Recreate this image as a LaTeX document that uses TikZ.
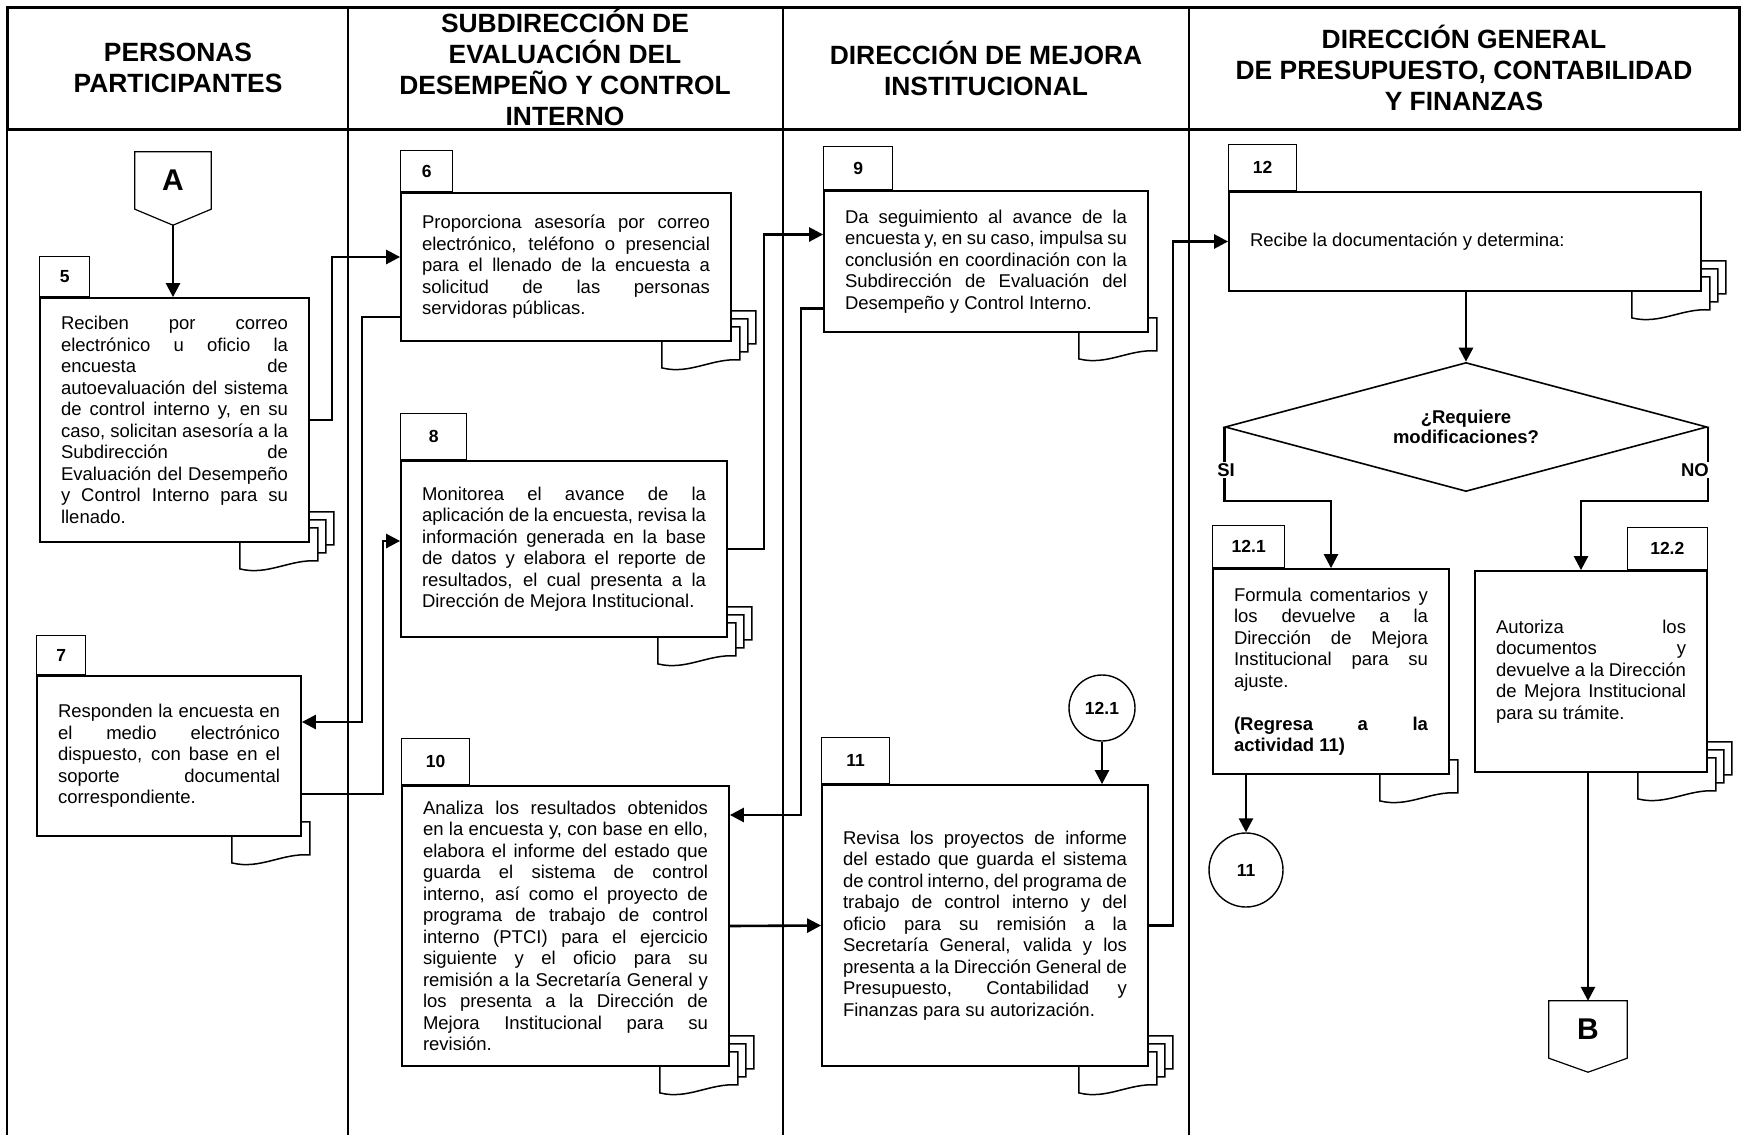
\documentclass[tikz,border=0pt]{standalone}
\usepackage{fontspec}
\setmainfont{Liberation Sans}
\usetikzlibrary{arrows.meta,shapes.geometric,backgrounds}
\tolerance=10000
\hbadness=10000

% stacked sheets behind a box: #1 box, #2 number of sheets
\newcommand{\sheets}[2]{%
  \foreach \k in {#2,...,1}{%
    \pgfmathsetmacro{\dd}{8*(\k-1)}%
    \draw[sheet line, shift={(#1.south east)}]
      ({-70+\dd},{-15-\dd}) -- ({8+\dd},{-15-\dd}) -- ({8+\dd},{18-\dd})
      .. controls ({-20+\dd},{16-\dd}) and ({-42+\dd},{33-\dd}) .. ({-70+\dd},{26-\dd}) -- cycle;
  }%
}

\begin{document}
\begin{tikzpicture}[x=1pt, y=-1pt,
    box node/.style={draw, fill=white, line width=1.8pt, inner xsep=21pt, inner ysep=3pt,
                     align=justify, font=\fontsize{18.5}{21.5}\selectfont},
    tab node/.style={draw, line width=1.2pt, inner sep=0pt,
                     font=\bfseries\fontsize{17.5}{20}\selectfont},
    link node/.style={circle, draw, line width=1.4pt, inner sep=0pt,
                      font=\bfseries\fontsize{17.5}{20}\selectfont},
    page node/.style={inner sep=0pt, font=\bfseries\fontsize{30}{34}\selectfont},
    head node/.style={align=center, font=\bfseries\fontsize{26.4}{31}\selectfont},
    label node/.style={fill=white, inner sep=1pt, font=\bfseries\fontsize{18.5}{21}\selectfont},
    decision node/.style={diamond, draw, line width=1.6pt, aspect=3.7, inner sep=0pt,
                          minimum width=482pt, minimum height=129pt, align=center,
                          font=\bfseries\fontsize{18.5}{20.5}\selectfont},
    arrow line/.style={line width=2.6pt, -{Triangle[length=14pt,width=14pt]}},
    sheet line/.style={draw, fill=white, line width=1.5pt},
    thin line/.style={line width=1.2pt}]

  \useasboundingbox (0,0) rectangle (1741,1135);

  % lanes
  \draw[line width=3pt] (7,7) rectangle (1739,129);
  \draw[line width=2.4pt] (7,129) -- (7,1135);
  \foreach \x in {348,783,1189}
    \draw[line width=2.6pt] (\x,7) -- (\x,1135);

  \node[head node] (h1) at (178,68) {PERSONAS\\PARTICIPANTES};
  \node[head node] (h2) at (565,67) {SUBDIRECCIÓN DE\\EVALUACIÓN DEL\\DESEMPEÑO Y CONTROL\\INTERNO};
  \node[head node] (h3) at (986,68) {DIRECCIÓN DE MEJORA\\INSTITUCIONAL};
  \node[head node] (h4) at (1464,68) {DIRECCIÓN GENERAL\\DE PRESUPUESTO, CONTABILIDAD\\Y FINANZAS};

  % activities
  \node[box node, text width=227pt, minimum height=244pt] (5) at (174.5,420)
    {Reciben por correo\linebreak electrónico u oficio la\linebreak encuesta de\linebreak
     autoevaluación del sistema\linebreak de control interno y, en su\linebreak
     caso, solicitan asesoría a la\linebreak Subdirección de\linebreak
     Evaluación del Desempeño\linebreak y Control Interno para su\linebreak llenado.};
  \node[box node, text width=222pt, minimum height=160pt] (7) at (169,756)
    {Responden la encuesta en\linebreak el medio electrónico\linebreak
     dispuesto, con base en el\linebreak soporte documental\linebreak correspondiente.};
  \node[box node, text width=288pt, minimum height=148pt] (6) at (566,267)
    {Proporciona asesoría por correo\linebreak electrónico, teléfono o presencial\linebreak
     para el llenado de la encuesta a\linebreak solicitud de las personas\linebreak
     servidoras públicas.};
  \node[box node, text width=284pt, minimum height=176pt] (8) at (564,549)
    {Monitorea el avance de la\linebreak aplicación de la encuesta, revisa la\linebreak
     información generada en la base\linebreak de datos y elabora el reporte de\linebreak
     resultados, el cual presenta a la\linebreak Dirección de Mejora Institucional.};
  \node[box node, text width=285pt, minimum height=280pt] (10) at (565.5,926)
    {Analiza los resultados obtenidos\linebreak en la encuesta y, con base en ello,\linebreak
     elabora el informe del estado que\linebreak guarda el sistema de control\linebreak
     interno, así como el proyecto de\linebreak programa de trabajo de control\linebreak
     interno (PTCI) para el ejercicio\linebreak siguiente y el oficio para su\linebreak
     remisión a la Secretaría General y\linebreak los presenta a la Dirección de\linebreak
     Mejora Institucional para su\linebreak revisión.};
  \node[box node, text width=282pt, minimum height=141pt] (9) at (986,261.5)
    {Da seguimiento al avance de la\linebreak encuesta y, en su caso, impulsa su\linebreak
     conclusión en coordinación con la\linebreak Subdirección de Evaluación del\linebreak
     Desempeño y Control Interno.};
  \node[box node, text width=284pt, minimum height=281pt] (11) at (985,925.5)
    {Revisa los proyectos de informe\linebreak del estado que guarda el sistema\linebreak
     de control interno, del programa de\linebreak trabajo de control interno y del\linebreak
     oficio para su remisión a la\linebreak Secretaría General, valida y los\linebreak
     presenta a la Dirección General de\linebreak Presupuesto, Contabilidad y\linebreak
     Finanzas para su autorización.};
  \node[box node, text width=430pt, minimum height=99pt] (12) at (1465,241.5)
    {Recibe la documentación y determina:};
  \node[box node, text width=194pt, minimum height=205pt] (121) at (1331,671.5)
    {Formula comentarios y\linebreak los devuelve a la\linebreak Dirección de Mejora\linebreak
     Institucional para su\linebreak ajuste.\par\vspace{21.5pt}\noindent
     \textbf{(Regresa a la\linebreak actividad 11)}};
  \node[box node, text width=190pt, minimum height=201pt] (122) at (1591,671.5)
    {Autoriza los\linebreak documentos y\linebreak devuelve a la Dirección\linebreak
     de Mejora Institucional\linebreak para su trámite.};

  % number tabs
  \node[tab node, minimum width=50pt, minimum height=40pt, anchor=south west] (t5) at (5.north west) {5};
  \node[tab node, minimum width=49pt, minimum height=39pt, anchor=south west] (t7) at (7.north west) {7};
  \node[tab node, minimum width=52pt, minimum height=41pt, anchor=south west] (t6) at (6.north west) {6};
  \node[tab node, minimum width=66pt, minimum height=46pt, anchor=south west] (t8) at (8.north west) {8};
  \node[tab node, minimum width=68pt, minimum height=46pt, anchor=south west] (t10) at (10.north west) {10};
  \node[tab node, minimum width=69pt, minimum height=43pt, anchor=south west] (t9) at (9.north west) {9};
  \node[tab node, minimum width=68pt, minimum height=46pt, anchor=south west] (t11) at (11.north west) {11};
  \node[tab node, minimum width=68pt, minimum height=46pt, anchor=south west] (t12) at (12.north west) {12};
  \node[tab node, minimum width=72pt, minimum height=42pt, anchor=south west] (t121) at (121.north west) {12.1};
  \node[tab node, minimum width=80pt, minimum height=42pt, anchor=south east] (t122) at (122.north east) {12.2};

  \begin{pgfonlayer}{background}
    \sheets{5}{3} \sheets{7}{1} \sheets{6}{3} \sheets{8}{3} \sheets{10}{3}
    \sheets{9}{1} \sheets{11}{3} \sheets{12}{3} \sheets{121}{1} \sheets{122}{3}
  \end{pgfonlayer}

  % connectors
  \node[page node, minimum width=76pt, minimum height=57pt] (A) at (173,180.5) {A};
  \draw[thin line] (A.north west) -- (A.north east) -- (A.south east)
    -- ([yshift=-16pt]A.south) -- (A.south west) -- cycle;
  \coordinate (A tip) at ([yshift=-16pt]A.south);
  \node[page node, minimum width=78pt, minimum height=57pt] (B) at (1588,1029.5) {B};
  \draw[thin line] (B.north west) -- (B.north east) -- (B.south east)
    -- ([yshift=-14pt]B.south) -- (B.south west) -- cycle;
  \node[link node, minimum size=66pt] (c121) at (1102,708) {12.1};
  \node[link node, minimum size=74pt] (c11) at (1246,870) {11};

  \node[decision node] (q) at (1466,427) {¿Requiere\\modificaciones?};

  % flow
  \draw[arrow line] (A tip) -- (A tip |- 5.north);
  \draw[arrow line] (5.east) -- ++(22,0) |- ([yshift=10pt]6.west);
  \draw[arrow line] ([yshift=-50pt]6.west) -- ++(-38,0) |- ([yshift=34pt]7.east);
  \draw[arrow line] ([yshift=-38pt]7.east) -- ++(81,0) |- ([yshift=8pt]8.west);
  \draw[arrow line] (8.east) -- ++(36,0) |- ([yshift=27pt]9.west);
  \draw[arrow line] ([yshift=-47pt]9.west) -- ++(-22,0) |- ([yshift=111pt]10.east);
  \draw[arrow line] (10.east) -- (11.west);
  \draw[arrow line] (c121) -- (c121 |- 11.north);
  \draw[arrow line] (11.east) -- ++(24,0) |- (12.west);
  \draw[arrow line] (12.south -| q.north) -- (q.north);
  \draw[arrow line] (q.west) -- ++(0,74) -| (121.north);
  \draw[arrow line] (q.east) -- ++(0,74) -| ([xshift=-10pt]122.north);
  \draw[arrow line] (121.south -| c11.north) -- (c11.north);
  \draw[arrow line] (122.south -| B.north) -- (B.north);

  \node[label node] (si) at (1226,470) {SI};
  \node[label node] (no) at (1695,470) {NO};
\end{tikzpicture}
\end{document}
